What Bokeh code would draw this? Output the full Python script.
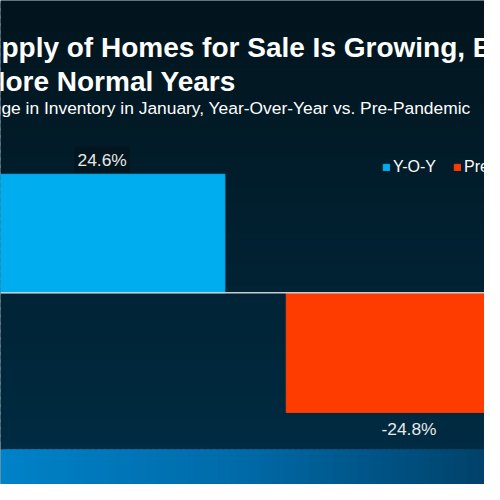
from bokeh.plotting import figure
from bokeh.models import Range1d, Span, Label, Legend, LegendItem, ColumnDataSource
from bokeh.core.properties import value
from bokeh.embed import file_html
from bokeh.resources import INLINE

# ---- data ----
series = ["Y-O-Y", "Pre-Pandemic"]
values = [24.6, -24.8]
value_labels = ["24.6%", "-24.8%"]
colors = ["#00aeef", "#ff3c00"]

title_line1 = "Supply of Homes for Sale Is Growing, But"
title_line2 = "More Normal Years"
subtitle = "Change in Inventory in January, Year-Over-Year vs. Pre-Pandemic"

W = H = 484
S = W / 500.0
FONT = "Liberation Sans"

x_start, x_end = -0.3312, 1.2461
y_start, y_end = -39.76, 60.64

p = figure(width=W, height=H, output_backend="svg", toolbar_location=None,
           x_range=Range1d(x_start, x_end), y_range=Range1d(y_start, y_end),
           x_axis_location=None, y_axis_location=None, min_border=0,
           outline_line_color=None, background_fill_color="#002a40",
           border_fill_color="#002a40")
p.grid.visible = False

def lerp_hex(c1, c2, t):
    t = max(0.0, min(1.0, t))
    a = [int(c1[i:i + 2], 16) for i in (1, 3, 5)]
    b = [int(c2[i:i + 2], 16) for i in (1, 3, 5)]
    return "#%02x%02x%02x" % tuple(round(a[k] + (b[k] - a[k]) * t) for k in range(3))

# background vertical gradient (decoration)
band_top = (302 - 463.5) / 4.98
n = 60
dy = (y_end - band_top) / n
bl, br, bb, bt, bc = [], [], [], [], []
for i in range(n):
    y0 = band_top + dy * i
    bl.append(x_start); br.append(x_end); bb.append(y0)
    bt.append(min(y_end, y0 + dy * 1.6))
    bc.append(lerp_hex("#002b42", "#02141c", (i + 0.5) / n))
p.quad(left=bl, right=br, bottom=bb, top=bt, fill_color=bc, line_color=None)

# bottom blue band gradient (decoration)
m = 80
dx = (x_end - x_start) / m
gl, gr, gb, gt, gc = [], [], [], [], []
for i in range(m):
    x0 = x_start + dx * i
    t = (i + 0.5) / m
    c = lerp_hex("#0082c8", "#006aa8", t * 2) if t < 0.5 else lerp_hex("#006aa8", "#00426a", (t - 0.5) * 2)
    gl.append(x0); gr.append(min(x_end, x0 + dx * 1.6)); gb.append(y_start); gt.append(band_top); gc.append(c)
p.quad(left=gl, right=gr, bottom=gb, top=gt, fill_color=gc, line_color=None)

# bars, one renderer per series
renderers = []
for i, (s, v, c) in enumerate(zip(series, values, colors)):
    src = ColumnDataSource(dict(x=[i], top=[v]))
    r = p.vbar(x="x", top="top", bottom=0, width=0.8, source=src,
               fill_color=c, line_color=c)
    renderers.append(r)

p.add_layout(Span(location=0, dimension="width", line_color="#c8cdd2", line_width=1.5))

# value labels
offs = [-15 * S if v >= 0 else 17 * S for v in values]
p.text(x=list(range(len(values))), y=values, text=value_labels, y_offset=offs,
       text_align="center", text_baseline="middle", text_color="#e8e8e8",
       text_font=value(FONT), text_font_size="17.4px",
       background_fill_color=["#03161f", None], padding=3)

# legend
legend = Legend(items=[LegendItem(label=s, renderers=[r]) for s, r in zip(series, renderers)],
                orientation="horizontal", location=(382, 308),
                glyph_width=8, glyph_height=8, label_standoff=3, spacing=17,
                padding=0, margin=0, border_line_color=None,
                background_fill_alpha=0, label_text_color="#ffffff",
                label_text_font=FONT, label_text_font_size="16px")
p.add_layout(legend)

def add_label(txt, X, Y, size, bold=False):
    p.add_layout(Label(x=X * S, y=H - Y * S + 9, x_units="screen", y_units="screen",
                       text=txt, text_color="#ffffff", text_font=FONT,
                       text_font_size=size, text_font_style="bold" if bold else "normal",
                       text_baseline="alphabetic", text_align="left"))

add_label(title_line1, -36, 58, "28px", bold=True)
add_label(title_line2, -19, 93, "28px", bold=True)
add_label(subtitle, -42, 120, "17.4px")

open("out.html", "w").write(file_html(p, INLINE))
